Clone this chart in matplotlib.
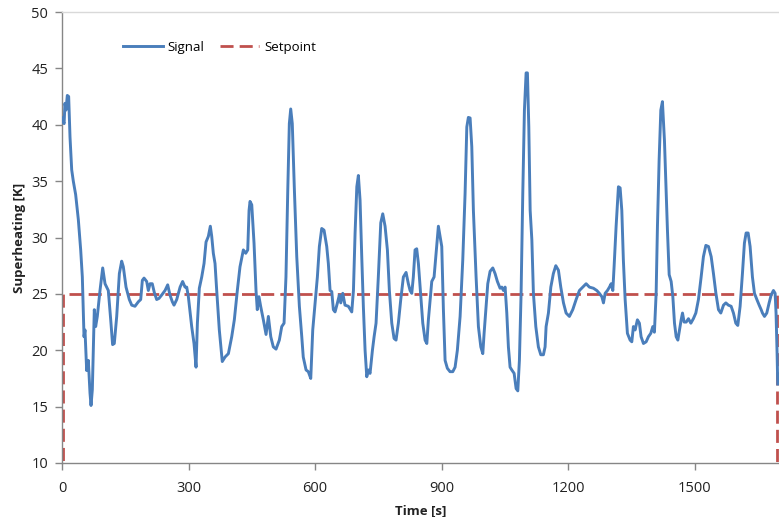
import matplotlib
matplotlib.use("Agg")
import matplotlib.pyplot as plt

# ---- data ----
signal_t = [0, 5, 7, 9.5, 12.6, 15.8, 19, 23, 26.8, 32.4, 38.7, 44.3, 48.2, 52.2, 54.5, 58.5, 62.4, 66.4, 68.8, 71.9,
            76.6, 79.8, 83.7, 90.1, 96.5, 102, 109.8, 115.5, 120, 124, 129.7, 136, 141.5, 145.4, 151.8, 159.6, 165.3,
            173, 181, 186.6, 190.5, 194.5, 200.8, 204.7, 208.7, 214, 219, 224.5, 230, 236.4, 244.3, 250.6, 256,
            261.6, 265.6, 272, 280, 286, 291.7, 295.7, 299.6, 307.5, 313, 317.8, 321, 325.6, 331.3, 336.8, 341.5,
            347, 351.7, 355, 358.8, 362.8, 366.8, 373, 380, 386.6, 394.5, 402.4, 408.6, 415.7, 422, 430, 435.6,
            440.4, 443.5, 445.8, 449.9, 455.3, 460, 463, 467, 471, 477.4, 483.8, 489.3, 495, 501, 507.5, 515.3,
            521, 526.5, 531, 535.3, 539, 542.3, 546, 551, 556.6, 562.8, 568.5, 572, 578.7, 584, 589.8, 594.5, 600,
            605.5, 610.2, 615.8, 621.3, 627.7, 631.5, 635.6, 639.6, 643.4, 647.4, 653, 657.6, 661, 665.7, 671, 679,
            687, 691, 694.9, 699, 702.7, 706.7, 710.7, 714.5, 718.6, 722.6, 726.4, 730.4, 736, 740, 744.6, 750,
            755.8, 760.5, 766, 771.5, 776.2, 781.9, 787.3, 792, 797.5, 803.2, 809.4, 815.8, 821.2, 825.3, 829.3,
            833, 837.1, 841, 845, 850.7, 855.4, 860.9, 865, 868.7, 874.4, 876.7, 882.2, 887, 892.4, 896.4, 900.4,
            904.3, 908.3, 913.7, 920, 926.5, 932, 937.4, 943.9, 950.2, 955.7, 959.8, 963.5, 967.6, 971.6, 975.4,
            981.8, 987.3, 993, 997.7, 1000.8, 1005.5, 1009.5, 1015, 1021.4, 1026.8, 1032.3, 1038.7, 1042.8, 1046.6,
            1050.6, 1054.6, 1058.4, 1062.4, 1066.5, 1072, 1076.7, 1080.7, 1084.5, 1088.5, 1092.5, 1096.4, 1100.4,
            1103.5, 1106.8, 1110, 1114, 1117.7, 1123.4, 1129.5, 1135.2, 1141.4, 1145.4, 1147.8, 1153.3, 1159, 1165,
            1170.8, 1177, 1182.6, 1189, 1195.2, 1203, 1211, 1219, 1226.8, 1234.8, 1242.7, 1250.5, 1260, 1268, 1274,
            1280, 1283.8, 1287.8, 1293.2, 1298, 1302, 1306, 1309, 1313.8, 1319.3, 1323.3, 1327.3, 1331, 1335.2,
            1340.6, 1347, 1351, 1354.8, 1358.8, 1364.3, 1369, 1373, 1378.6, 1385, 1390.4, 1396, 1400.8, 1404.6,
            1408.7, 1411.8, 1415.8, 1419.8, 1423.6, 1428.4, 1432.4, 1435.5, 1439.6, 1444.3, 1448.3, 1452.2, 1456.2,
            1460.2, 1464, 1468, 1471.2, 1475, 1480, 1485.3, 1491, 1497, 1502.8, 1509, 1515.4, 1520.8, 1526.6,
            1532.8, 1539.2, 1544.6, 1550.4, 1556.5, 1562, 1568.4, 1574, 1580, 1586.5, 1592, 1597.6, 1602.3, 1607.8,
            1613.3, 1618, 1622, 1626.8, 1631.5, 1637, 1641.8, 1647.5, 1653, 1657.7, 1660.8, 1665.6, 1671, 1676.6,
            1681.4, 1686.8, 1690.8, 1693, 1695.5, 1697]
signal_v = [40.6, 40.1, 41.9, 41.3, 42.6, 42.5, 38.9, 36.0, 35.0, 33.8, 31.6, 28.9, 26.5, 21.2, 21.8, 18.2, 19.1, 16.2,
            15.1, 16.5, 23.6, 22.1, 23.0, 25.3, 27.3, 25.9, 25.3, 22.7, 20.5, 20.6, 23.0, 26.8, 27.9, 27.4, 25.6,
            24.5, 24.0, 23.9, 24.3, 24.5, 26.2, 26.4, 26.1, 25.3, 25.9, 25.9, 25.1, 24.5, 24.6, 24.9, 25.3, 25.8,
            24.9, 24.3, 24.0, 24.5, 25.6, 26.1, 25.6, 25.6, 24.75, 22.1, 20.6, 18.5, 22.4, 25.5, 26.5, 27.7, 29.6,
            30.1, 31.0, 30.1, 28.6, 27.7, 25.3, 21.8, 19.0, 19.4, 19.7, 21.2, 22.7, 25.3, 27.4, 28.9, 28.6, 28.9,
            32.4, 33.2, 32.9, 29.5, 25.3, 23.6, 24.75, 23.9, 22.7, 21.4, 23.0, 21.2, 20.3, 20.1, 20.9, 22.1, 22.4,
            26.5, 34.2, 40.1, 41.4, 40.1, 34.2, 28.3, 23.9, 21.2, 19.4, 18.25, 18.1, 17.5, 21.8, 24.2, 26.5, 29.2,
            30.8, 30.65, 29.2, 27.7, 25.3, 25.2, 23.6, 23.4, 24.2, 24.9, 24.2, 25.05, 24.0, 23.9, 23.4, 25.3, 30.4,
            34.5, 35.5, 33.3, 28.3, 23.9, 20.0, 17.65, 18.25, 17.95, 20.0, 21.2, 22.4, 26.5, 31.3, 32.1, 31.0, 28.9,
            25.3, 22.4, 21.05, 20.9, 22.4, 24.5, 26.5, 26.9, 25.9, 25.3, 25.05, 26.5, 28.9, 29.0, 27.7, 24.75, 22.4,
            20.9, 20.6, 22.7, 25.05, 26.1, 26.5, 28.6, 31.0, 30.1, 29.2, 23.6, 19.1, 18.4, 18.1, 18.1, 18.5, 20.0,
            23.0, 28.0, 33.9, 39.8, 40.65, 40.6, 38.05, 32.4, 26.5, 22.1, 20.3, 19.7, 21.5, 23.9, 25.9, 27.0, 27.3,
            26.8, 26.1, 25.5, 25.6, 25.3, 25.6, 23.3, 20.3, 18.5, 18.25, 17.95, 16.6, 16.4, 19.1, 25.05, 33.9, 41.3,
            44.6, 44.6, 39.8, 32.4, 29.8, 25.05, 22.1, 20.3, 19.6, 19.6, 20.3, 22.1, 23.3, 25.6, 26.8, 27.5, 27.1,
            25.6, 24.2, 23.3, 23.0, 23.6, 24.5, 25.3, 25.6, 25.9, 25.6, 25.5, 25.3, 25.05, 24.75, 24.2, 25.05, 25.3,
            25.6, 25.9, 25.3, 27.4, 31.0, 34.5, 34.4, 32.4, 28.0, 24.5, 21.5, 20.9, 20.75, 22.1, 21.8, 22.7, 22.4,
            21.2, 20.6, 20.75, 21.2, 21.5, 22.1, 21.6, 25.05, 31.0, 36.9, 41.3, 42.05, 38.6, 34.2, 30.65, 26.7, 26.1,
            24.75, 22.4, 21.2, 20.9, 21.8, 22.7, 23.3, 22.5, 22.5, 22.8, 22.4, 22.8, 23.3, 24.5, 26.5, 28.3, 29.3,
            29.2, 28.3, 26.8, 25.05, 23.6, 23.3, 24.0, 24.2, 24.0, 23.9, 23.3, 22.4, 22.2, 23.9, 26.8, 29.5, 30.4,
            30.4, 29.2, 26.5, 25.05, 24.5, 24.0, 23.6, 23.3, 23.0, 23.3, 24.2, 24.9, 25.3, 25.05, 23.3, 19.7, 17.0]

setpoint_t = [1.5, 1.5, 1696, 1696]
setpoint_v = [0, 25, 25, 0]

x_ticks = [0, 300, 600, 900, 1200, 1500]
y_ticks = [10, 15, 20, 25, 30, 35, 40, 45, 50]

plt.rcParams['font.family'] = ['Open Sans', 'DejaVu Sans']

fig = plt.figure(figsize=(7.79, 5.17), dpi=100)
ax = fig.add_axes([62 / 779, 1 - 463 / 517, 1 - 62 / 779, (463 - 12) / 517])

ax.plot(signal_t, signal_v, color='#4a7ebb', lw=2.1, label='Signal', solid_joinstyle='round', zorder=3)
ax.plot(setpoint_t, setpoint_v, color='#c0504d', lw=2.0, linestyle=(0, (4.7, 2.2)), label='Setpoint', zorder=2)

ax.set_xlim(0, 1700)
ax.set_ylim(10, 50)
ax.set_xticks(x_ticks)
ax.set_yticks(y_ticks)

axis_gray = '#868686'
for s in ['left', 'bottom']:
    ax.spines[s].set_color(axis_gray)
    ax.spines[s].set_linewidth(1.0)
ax.spines['right'].set_visible(False)
ax.spines['top'].set_color('#d9d9d9')
ax.spines['top'].set_linewidth(1.0)

ax.tick_params(axis='both', direction='out', length=5, width=1, color=axis_gray,
               labelsize=10.5, labelcolor='#222222', pad=5)
ax.tick_params(axis='x', pad=8)

ax.set_xlabel('Time [s]', fontsize=9.5, fontweight='bold', labelpad=6, color='#222222')
ax.set_ylabel('Superheating [K]', fontsize=9.5, fontweight='bold', labelpad=4, color='#222222')

ax.legend(loc='center left', bbox_to_anchor=(61 / 717, (463 - 47) / 451), ncol=2, frameon=False,
          fontsize=9.5, handlelength=3.0, columnspacing=1.15, handletextpad=0.4,
          borderpad=0, borderaxespad=0)

fig.savefig('out.png', dpi=100)
